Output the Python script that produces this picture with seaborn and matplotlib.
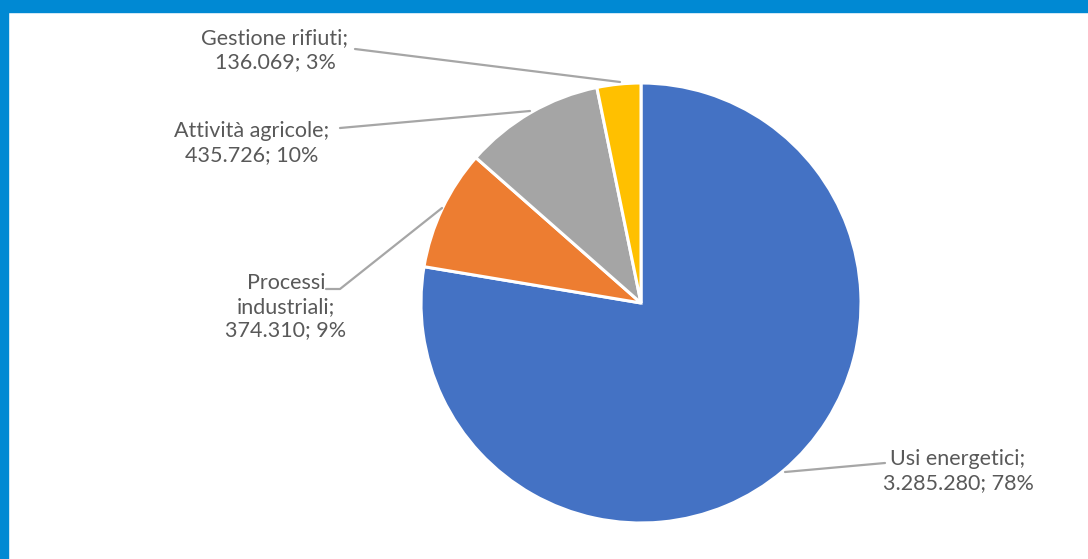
import matplotlib
matplotlib.use("Agg")
import matplotlib.pyplot as plt
import seaborn as sns
from matplotlib.patches import Rectangle

sns.set_theme(style="white")
plt.rcParams["font.family"] = ["Lato", "DejaVu Sans"]

# Emissions by sector
categories = ["Usi energetici", "Processi industriali", "Attività agricole", "Gestione rifiuti"]
values = [3285280, 374310, 435726, 136069]
percent_labels = ["78%", "9%", "10%", "3%"]
value_labels = ["3.285.280", "374.310", "435.726", "136.069"]
colors = ["#4472C4", "#ED7D31", "#A5A5A5", "#FFC000"]

W, H = 1088, 559
fig = plt.figure(figsize=(W / 100, H / 100), dpi=100)
ax = fig.add_axes([0, 0, 1, 1])

cx, cy, r = 641, H - 303, 220
ax.pie(values, colors=colors, startangle=90, counterclock=False,
       center=(cx, cy), radius=r,
       wedgeprops=dict(edgecolor="white", linewidth=2.2))
ax.set_xlim(0, W)
ax.set_ylim(0, H)
ax.set_aspect("equal")
ax.axis("off")

text_color = "#595959"
line_color = "#A6A6A6"
fs = 15.5

def y(p):
    return H - p

# label texts, positions and leader lines (pixel coords, top-left origin)
label_specs = [
    (f"{categories[0]};\n{value_labels[0]}; {percent_labels[0]}", 958, 471,
     [(885, 463), (785, 472)]),
    ("Processi\nindustriali;\n" + f"{value_labels[1]}; {percent_labels[1]}", 286, 307,
     [(326, 289), (340, 289), (442, 208)]),
    (f"{categories[2]};\n{value_labels[2]}; {percent_labels[2]}", 252, 143,
     [(340, 128), (530, 111)]),
    (f"{categories[3]};\n{value_labels[3]}; {percent_labels[3]}", 275, 50,
     [(355, 49), (620, 82)]),
]

for txt, tx, ty, pts in label_specs:
    ax.text(tx, y(ty), txt, ha="center", va="center", fontsize=fs,
            color=text_color, linespacing=1.22)
    xs = [p[0] for p in pts]
    ys = [y(p[1]) for p in pts]
    ax.plot(xs, ys, color=line_color, linewidth=1.6, solid_capstyle="round")

# blue frame along the top and left edges
frame_color = "#0089D3"
ax.add_patch(Rectangle((0, H - 12), W, 12, color=frame_color, zorder=10, clip_on=False))
ax.add_patch(Rectangle((0, 0), 8, H, color=frame_color, zorder=10, clip_on=False))

fig.savefig("out.png", dpi=100, facecolor="white")
